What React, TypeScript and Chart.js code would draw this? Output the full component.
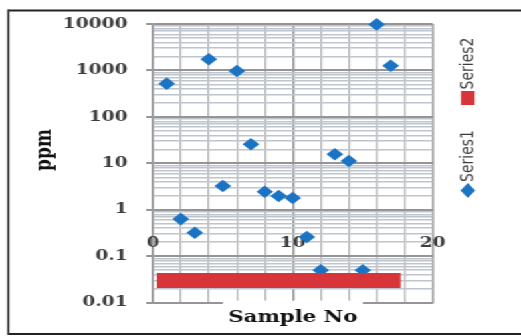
import { useEffect, useRef } from 'react';
import { Chart, registerables } from 'chart.js';

Chart.register(...registerables);

// ---- data ----
const sampleNo = [1, 2, 3, 4, 5, 6, 7, 8, 9, 10, 11, 12, 13, 14, 15, 16, 17];
const series1 = [520, 0.63, 0.32, 1740, 3.25, 975, 25.7, 2.45, 1.98, 1.8, 0.26, 0.05, 15.7, 11.2, 0.05, 9800, 1260];
const series2 = [0.03, 0.03, 0.03, 0.03, 0.03, 0.03, 0.03, 0.03, 0.03, 0.03, 0.03, 0.03, 0.03, 0.03, 0.03, 0.03, 0.03];
const yTickValues = [0.01, 0.1, 1, 10, 100, 1000, 10000];
const yTickLabels = ['0.01', '0.1', '1', '10', '100', '1000', '10000'];
const yMinorSteps = [2, 3, 4, 5, 6, 7, 8, 9];
const xGridStep = 2;
const xTickValues = [0, 10, 20];
const xTickLabels = ['0', '10', '20'];
const seriesNames = ['Series1', 'Series2'];
const xTitle = 'Sample No';
const yTitle = 'ppm';

// ---- layout / style ----
const W = 392;
const H = 336;
const SX = 521 / W;
const BLUE = '#1b74c3';
const RED = '#d8353b';
const TEXT = '#3d3d3d';
const SERIF = '"DejaVu Serif", serif';
const MAJOR = '#959595';

const isDecade = (v: number) => Math.abs(Math.log10(v) - Math.round(Math.log10(v))) < 1e-6;

const decor = {
  id: 'decor',
  beforeDatasetsDraw(chart: any) {
    const { ctx, scales } = chart;
    const x = scales.x;
    ctx.save();
    ctx.font = `bold 14px ${SERIF}`;
    ctx.fillStyle = TEXT;
    ctx.textAlign = 'center';
    ctx.textBaseline = 'middle';
    xTickValues.forEach((v, i) => {
      ctx.fillText(xTickLabels[i], x.getPixelForValue(v), 243.5);
    });
    ctx.restore();
  },
  afterDraw(chart: any) {
    const { ctx, scales, chartArea } = chart;
    const x = scales.x;
    ctx.save();
    ctx.font = `bold 16px ${SERIF}`;
    const cx = x.getPixelForValue(10);
    const tw = ctx.measureText(xTitle).width;
    ctx.fillStyle = '#ffffff';
    ctx.fillRect(cx - tw / 2 - 4, chartArea.bottom - 2, tw + 8, 30);
    ctx.fillStyle = '#111111';
    ctx.textAlign = 'center';
    ctx.textBaseline = 'middle';
    ctx.fillText(xTitle, cx, 318);

    ctx.save();
    ctx.translate(34, 150);
    ctx.rotate(-Math.PI / 2);
    ctx.font = `bold 17px ${SERIF}`;
    ctx.fillText(yTitle, 0, 0);
    ctx.restore();

    const lx = 352;
    ctx.fillStyle = BLUE;
    ctx.beginPath();
    ctx.moveTo(lx, 190.5 - 7.5);
    ctx.lineTo(lx + 5.6, 190.5);
    ctx.lineTo(lx, 190.5 + 7.5);
    ctx.lineTo(lx - 5.6, 190.5);
    ctx.closePath();
    ctx.fill();
    ctx.fillStyle = RED;
    ctx.fillRect(lx - 5.2, 91, 10.4, 14);
    ctx.font = '14px "DejaVu Sans", sans-serif';
    ctx.fillStyle = TEXT;
    ctx.textAlign = 'left';
    ctx.textBaseline = 'middle';
    ctx.save();
    ctx.translate(lx, 182);
    ctx.rotate(-Math.PI / 2);
    ctx.fillText(seriesNames[0], 0, 0);
    ctx.restore();
    ctx.save();
    ctx.translate(lx, 89.5);
    ctx.rotate(-Math.PI / 2);
    ctx.fillText(seriesNames[1], 0, 0);
    ctx.restore();

    ctx.strokeStyle = '#222222';
    ctx.lineWidth = 2;
    ctx.beginPath();
    ctx.moveTo(6, 10.5);
    ctx.lineTo(W + 5, 10.5);
    ctx.moveTo(6, 334);
    ctx.lineTo(W + 5, 334);
    ctx.stroke();
    ctx.lineWidth = 1.6;
    ctx.beginPath();
    ctx.moveTo(6.3, 9.5);
    ctx.lineTo(6.3, 335);
    ctx.stroke();
    ctx.restore();
  },
};

function buildLogTicks(scale: any) {
  const t: any[] = [];
  yTickValues.forEach((d, i) => {
    t.push({ value: d, major: true });
    if (i < yTickValues.length - 1) {
      yMinorSteps.forEach((m) => t.push({ value: d * m, major: false }));
    }
  });
  scale.ticks = t;
}

export default function App() {
  const ref = useRef<HTMLCanvasElement>(null);

  useEffect(() => {
    const chart = new Chart(ref.current as HTMLCanvasElement, {
      type: 'scatter',
      data: {
        datasets: [
          {
            label: seriesNames[0],
            data: sampleNo.map((s, i) => ({ x: s, y: series1[i] })),
            backgroundColor: BLUE,
            borderColor: BLUE,
            pointStyle: 'rectRot',
            pointRadius: 6.3,
            pointBorderWidth: 0,
            showLine: false,
            order: 2,
            clip: false,
          },
          {
            label: seriesNames[1],
            data: sampleNo.map((s, i) => ({ x: s, y: series2[i] })),
            borderColor: RED,
            backgroundColor: RED,
            borderWidth: 15,
            borderCapStyle: 'square',
            showLine: true,
            pointRadius: 0,
            order: 1,
            clip: false,
          },
        ],
      } as any,
      options: {
        responsive: false,
        animation: false,
        events: [],
        layout: { padding: { top: 24, right: W - 325.6, left: 0, bottom: 0 } },
        plugins: { legend: { display: false }, tooltip: { enabled: false } },
        scales: {
          x: {
            type: 'linear',
            min: 0,
            max: 20,
            afterFit: (s: any) => {
              s.height = H - 302.7;
            },
            ticks: { display: false, stepSize: xGridStep, autoSkip: false },
            grid: {
              color: (c: any) => {
                const v = c.tick ? c.tick.value : 0;
                return v % 10 === 0 ? MAJOR : '#b6b6b6';
              },
              lineWidth: (c: any) => {
                const v = c.tick ? c.tick.value : 0;
                return v % 10 === 0 ? 1.5 : 1.3;
              },
              drawTicks: false,
            },
            border: { display: true, color: MAJOR, width: 1.5 },
          },
          y: {
            type: 'logarithmic',
            min: 0.01,
            max: 10000,
            afterBuildTicks: buildLogTicks,
            afterFit: (s: any) => {
              s.width = 115;
            },
            ticks: {
              autoSkip: false,
              padding: 14,
              color: TEXT,
              font: { family: SERIF, size: 14, weight: 'bold' },
              callback: (v: any) => {
                const i = yTickValues.findIndex((d) => Math.abs(d - v) / d < 1e-6);
                return i >= 0 ? yTickLabels[i] : '';
              },
            },
            grid: {
              color: (c: any) => (c.tick && isDecade(c.tick.value) ? MAJOR : '#bec5cd'),
              lineWidth: (c: any) => (c.tick && isDecade(c.tick.value) ? 2 : 1.6),
              tickColor: (c: any) => (c.tick && isDecade(c.tick.value) ? MAJOR : 'rgba(0,0,0,0)'),
              tickLength: 5,
              drawTicks: true,
            },
            border: { display: true, color: MAJOR, width: 1.5 },
          },
        },
      } as any,
      plugins: [decor],
    });
    return () => chart.destroy();
  }, []);

  return (
    <div
      style={{
        position: 'absolute',
        left: 0,
        top: 0,
        width: W,
        height: H,
        background: '#ffffff',
        transform: `scaleX(${SX})`,
        transformOrigin: '0 0',
      }}
    >
      <canvas ref={ref} width={W} height={H} style={{ display: 'block', width: W, height: H }} />
    </div>
  );
}
